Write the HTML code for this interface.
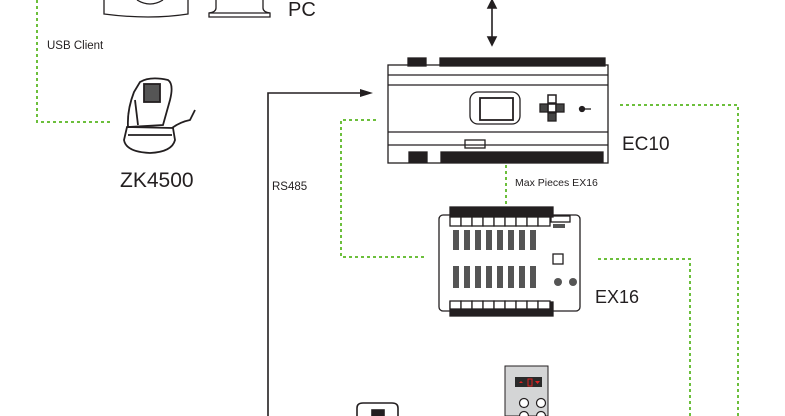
<!DOCTYPE html>
<html><head><meta charset="utf-8"><style>
html,body{margin:0;padding:0;background:#fff;}
svg{display:block;}
text{font-family:"Liberation Sans",sans-serif;fill:#231f20;}
</style></head><body>
<svg width="785" height="416" viewBox="0 0 785 416" xmlns="http://www.w3.org/2000/svg">
<g fill="none" stroke="#6cbf3c" stroke-width="2" stroke-dasharray="3,3">
<path d="M37,0 V122 H110"/>
<path d="M376,120 H341 V257 H425"/>
<path d="M620,105 H738 V416"/>
<path d="M598,259 H690 V416"/>
<path d="M506,165 V205"/>
</g>
<text x="47" y="49" font-size="11.5">USB Client</text>
<text x="288" y="16" font-size="20">PC</text>
<text x="120" y="187" font-size="21">ZK4500</text>
<text x="272" y="190" font-size="11.5">RS485</text>
<text x="622" y="150" font-size="19">EC10</text>
<text x="515" y="186" font-size="10.5">Max Pieces EX16</text>
<text x="595" y="303" font-size="18">EX16</text>
<g fill="none" stroke="#231f20" stroke-width="1.3">
<path d="M104,0 V14 Q150,20 188,14 V0"/>
<path d="M137,0 Q150,8 163,0"/>
<path d="M216,0 V8 Q216,12 209,13 V17 H270 V13 Q263,12 263,8 V0"/>
<path d="M209,13 H270"/>
</g>
<g stroke="#231f20" stroke-width="1.6" fill="#231f20">
<line x1="492" y1="4" x2="492" y2="40"/>
<path d="M488,8 L492,0 L496,8Z"/>
<path d="M488,37 L492,45 L496,37Z"/>
</g>
<path d="M268,416 V93 H362" fill="none" stroke="#231f20" stroke-width="1.6"/>
<path d="M360,89 L373,93 L360,97Z" fill="#231f20"/>
<g fill="none" stroke="#231f20" stroke-width="1.8">
<path d="M140,82 Q150,76 168,80 Q174,84 170,100 L163,125 L128,127 Q127,110 134,92 Z"/>
<rect x="144" y="84" width="16" height="18" fill="#555"/>
<path d="M127,127 L124,140 Q126,152 150,153 Q172,152 175,140 L173,128 Z"/>
<path d="M172,128 Q180,122 190,120 L195,110"/>
<path d="M128,135 H172"/>
<path d="M135,100 L138,125" />
</g>
<g stroke="#231f20" fill="none" stroke-width="1.3">
<rect x="408" y="58" width="18" height="8" fill="#231f20"/>
<rect x="440" y="58" width="165" height="8" fill="#231f20"/>
<rect x="388" y="65" width="220" height="98"/>
<line x1="388" y1="75" x2="608" y2="75"/>
<line x1="388" y1="85" x2="608" y2="85"/>
<line x1="388" y1="132" x2="608" y2="132"/>
<line x1="388" y1="145" x2="608" y2="145"/>
<rect x="470" y="92" width="50" height="32" rx="8"/>
<rect x="480" y="98" width="33" height="22" stroke-width="1.8"/>
<rect x="548" y="95" width="8" height="8" stroke-width="1.5"/>
<rect x="540" y="104" width="8" height="8" fill="#444"/>
<rect x="548" y="104" width="8" height="8" stroke-width="1.5"/>
<rect x="556" y="104" width="8" height="8" fill="#444"/>
<rect x="548" y="113" width="8" height="8" fill="#444"/>
<circle cx="582" cy="109" r="2.5" fill="#231f20"/>
<line x1="584" y1="109" x2="591" y2="109"/>
<rect x="465" y="140" width="20" height="8"/>
<rect x="409" y="152" width="18" height="10" fill="#231f20"/>
<rect x="441" y="152" width="162" height="10" fill="#231f20"/>
</g>
<g stroke="#231f20" fill="none" stroke-width="1.3">
<rect x="439" y="215" width="141" height="96" rx="4"/>
<rect x="450" y="207" width="103" height="10" fill="#231f20"/>
<rect x="450" y="302" width="103" height="14" fill="#231f20"/>
<g fill="#fff">
<rect x="450" y="217" width="11" height="9"/><rect x="461" y="217" width="11" height="9"/><rect x="472" y="217" width="11" height="9"/><rect x="483" y="217" width="11" height="9"/><rect x="494" y="217" width="11" height="9"/><rect x="505" y="217" width="11" height="9"/><rect x="516" y="217" width="11" height="9"/><rect x="527" y="217" width="11" height="9"/><rect x="538" y="217" width="12" height="9"/>
<rect x="450" y="301" width="11" height="8"/><rect x="461" y="301" width="11" height="8"/><rect x="472" y="301" width="11" height="8"/><rect x="483" y="301" width="11" height="8"/><rect x="494" y="301" width="11" height="8"/><rect x="505" y="301" width="11" height="8"/><rect x="516" y="301" width="11" height="8"/><rect x="527" y="301" width="11" height="8"/><rect x="538" y="301" width="12" height="8"/>
</g>
<g fill="#555" stroke="none">
<rect x="453" y="230" width="6" height="20"/><rect x="464" y="230" width="6" height="20"/><rect x="475" y="230" width="6" height="20"/><rect x="486" y="230" width="6" height="20"/><rect x="497" y="230" width="6" height="20"/><rect x="508" y="230" width="6" height="20"/><rect x="519" y="230" width="6" height="20"/><rect x="530" y="230" width="6" height="20"/>
<rect x="453" y="266" width="6" height="22"/><rect x="464" y="266" width="6" height="22"/><rect x="475" y="266" width="6" height="22"/><rect x="486" y="266" width="6" height="22"/><rect x="497" y="266" width="6" height="22"/><rect x="508" y="266" width="6" height="22"/><rect x="519" y="266" width="6" height="22"/><rect x="530" y="266" width="6" height="22"/>
<circle cx="558" cy="282" r="4"/><circle cx="573" cy="282" r="4"/>
<rect x="553" y="224" width="12" height="4"/>
</g>
<rect x="551" y="216" width="19" height="6"/>
<rect x="553" y="254" width="10" height="10"/>
</g>
<g stroke="#231f20" stroke-width="1.6" fill="none">
<path d="M357,416 V408 Q357,403 363,403 H392 Q398,403 398,408 V416"/>
<rect x="372" y="410" width="12" height="6" fill="#231f20"/>
</g>
<rect x="505" y="366" width="43" height="50" fill="#d4d5d6" stroke="#231f20" stroke-width="1"/>
<rect x="515" y="377" width="27" height="10" fill="#2a2a2a"/>
<rect x="528" y="379" width="4" height="7" fill="none" stroke="#d22" stroke-width="1"/>
<path d="M519,383 L521,381 L523,383Z M535,381 H540 L537.5,384Z" fill="#d22"/>
<circle cx="524" cy="403" r="4.5" fill="#fff" stroke="#231f20" stroke-width="1.2"/>
<circle cx="541" cy="403" r="4.5" fill="#fff" stroke="#231f20" stroke-width="1.2"/>
<circle cx="524" cy="416" r="4.5" fill="#fff" stroke="#231f20" stroke-width="1.2"/>
<circle cx="541" cy="416" r="4.5" fill="#fff" stroke="#231f20" stroke-width="1.2"/>
</svg>
</body></html>
